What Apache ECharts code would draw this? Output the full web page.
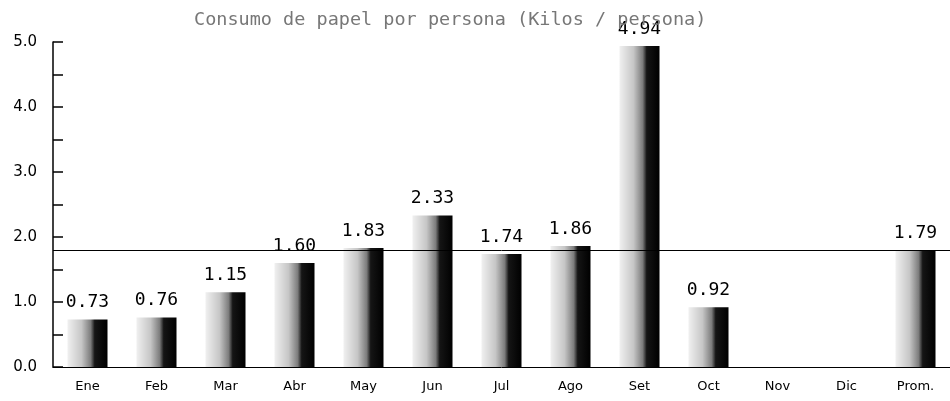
<!DOCTYPE html>
<html>
<head>
<meta charset="utf-8">
<script src="https://cdn.jsdelivr.net/npm/echarts@6/dist/echarts.min.js"></script>
<style>
  html, body { margin: 0; padding: 0; background: #fff; }
  #chart { width: 950px; height: 401px; }
</style>
</head>
<body>
<div id="chart"></div>
<script>
  // values
  const months = ['Ene', 'Feb', 'Mar', 'Abr', 'May', 'Jun', 'Jul', 'Ago', 'Set', 'Oct', 'Nov', 'Dic', 'Prom.'];
  const kilos = [0.73, 0.76, 1.15, 1.60, 1.83, 2.33, 1.74, 1.86, 4.94, 0.92, null, null, 1.79];
  const average = 1.79;
  const yTicks = [0, 1, 2, 3, 4, 5];

  const barFill = new echarts.graphic.LinearGradient(0, 0, 1, 0, [
    { offset: 0, color: '#f0f0f0' },
    { offset: 0.35, color: '#c6c6c6' },
    { offset: 0.58, color: '#7c7c7c' },
    { offset: 0.68, color: '#151515' },
    { offset: 1, color: '#000000' }
  ]);

  const chart = echarts.init(document.getElementById('chart'));
  chart.setOption({
    animation: false,
    title: {
      text: 'Consumo de papel por persona (Kilos / persona)',
      left: 189,
      top: 6,
      textStyle: { fontFamily: 'DejaVu Sans Mono', fontSize: 18.5, fontWeight: 'normal', color: '#777' }
    },
    // the last band runs past the right edge, as in the source
    grid: { left: 53, top: 42, width: 911, height: 325 },
    xAxis: {
      type: 'category',
      data: months,
      axisLine: { lineStyle: { color: '#000', width: 1 } },
      axisTick: { inside: true, length: 7, lineStyle: { color: '#000', width: 1.5 } },
      axisLabel: { color: '#000', fontFamily: 'DejaVu Sans', fontSize: 13, margin: 13 }
    },
    yAxis: {
      type: 'value',
      min: yTicks[0],
      max: yTicks[yTicks.length - 1],
      interval: 0.5,
      splitLine: { show: false },
      axisLine: { show: true, lineStyle: { color: '#000', width: 1.5 } },
      axisTick: { show: true, inside: true, length: 10, lineStyle: { color: '#000', width: 1.5 } },
      axisLabel: {
        color: '#000',
        fontFamily: 'DejaVu Sans',
        fontSize: 15,
        margin: 16,
        formatter: (v) => (yTicks.includes(v) ? v.toFixed(1) : '')
      }
    },
    series: [{
      type: 'bar',
      data: kilos,
      barWidth: 40,
      itemStyle: { color: barFill },
      label: {
        show: true,
        position: 'top',
        distance: 8,
        color: '#000',
        fontFamily: 'DejaVu Sans Mono',
        fontSize: 18,
        formatter: (p) => p.value.toFixed(2)
      },
      markLine: {
        silent: true,
        symbol: 'none',
        label: { show: false },
        lineStyle: { color: '#000', width: 1, type: 'solid' },
        data: [{ yAxis: average }]
      }
    }]
  });
</script>
</body>
</html>
